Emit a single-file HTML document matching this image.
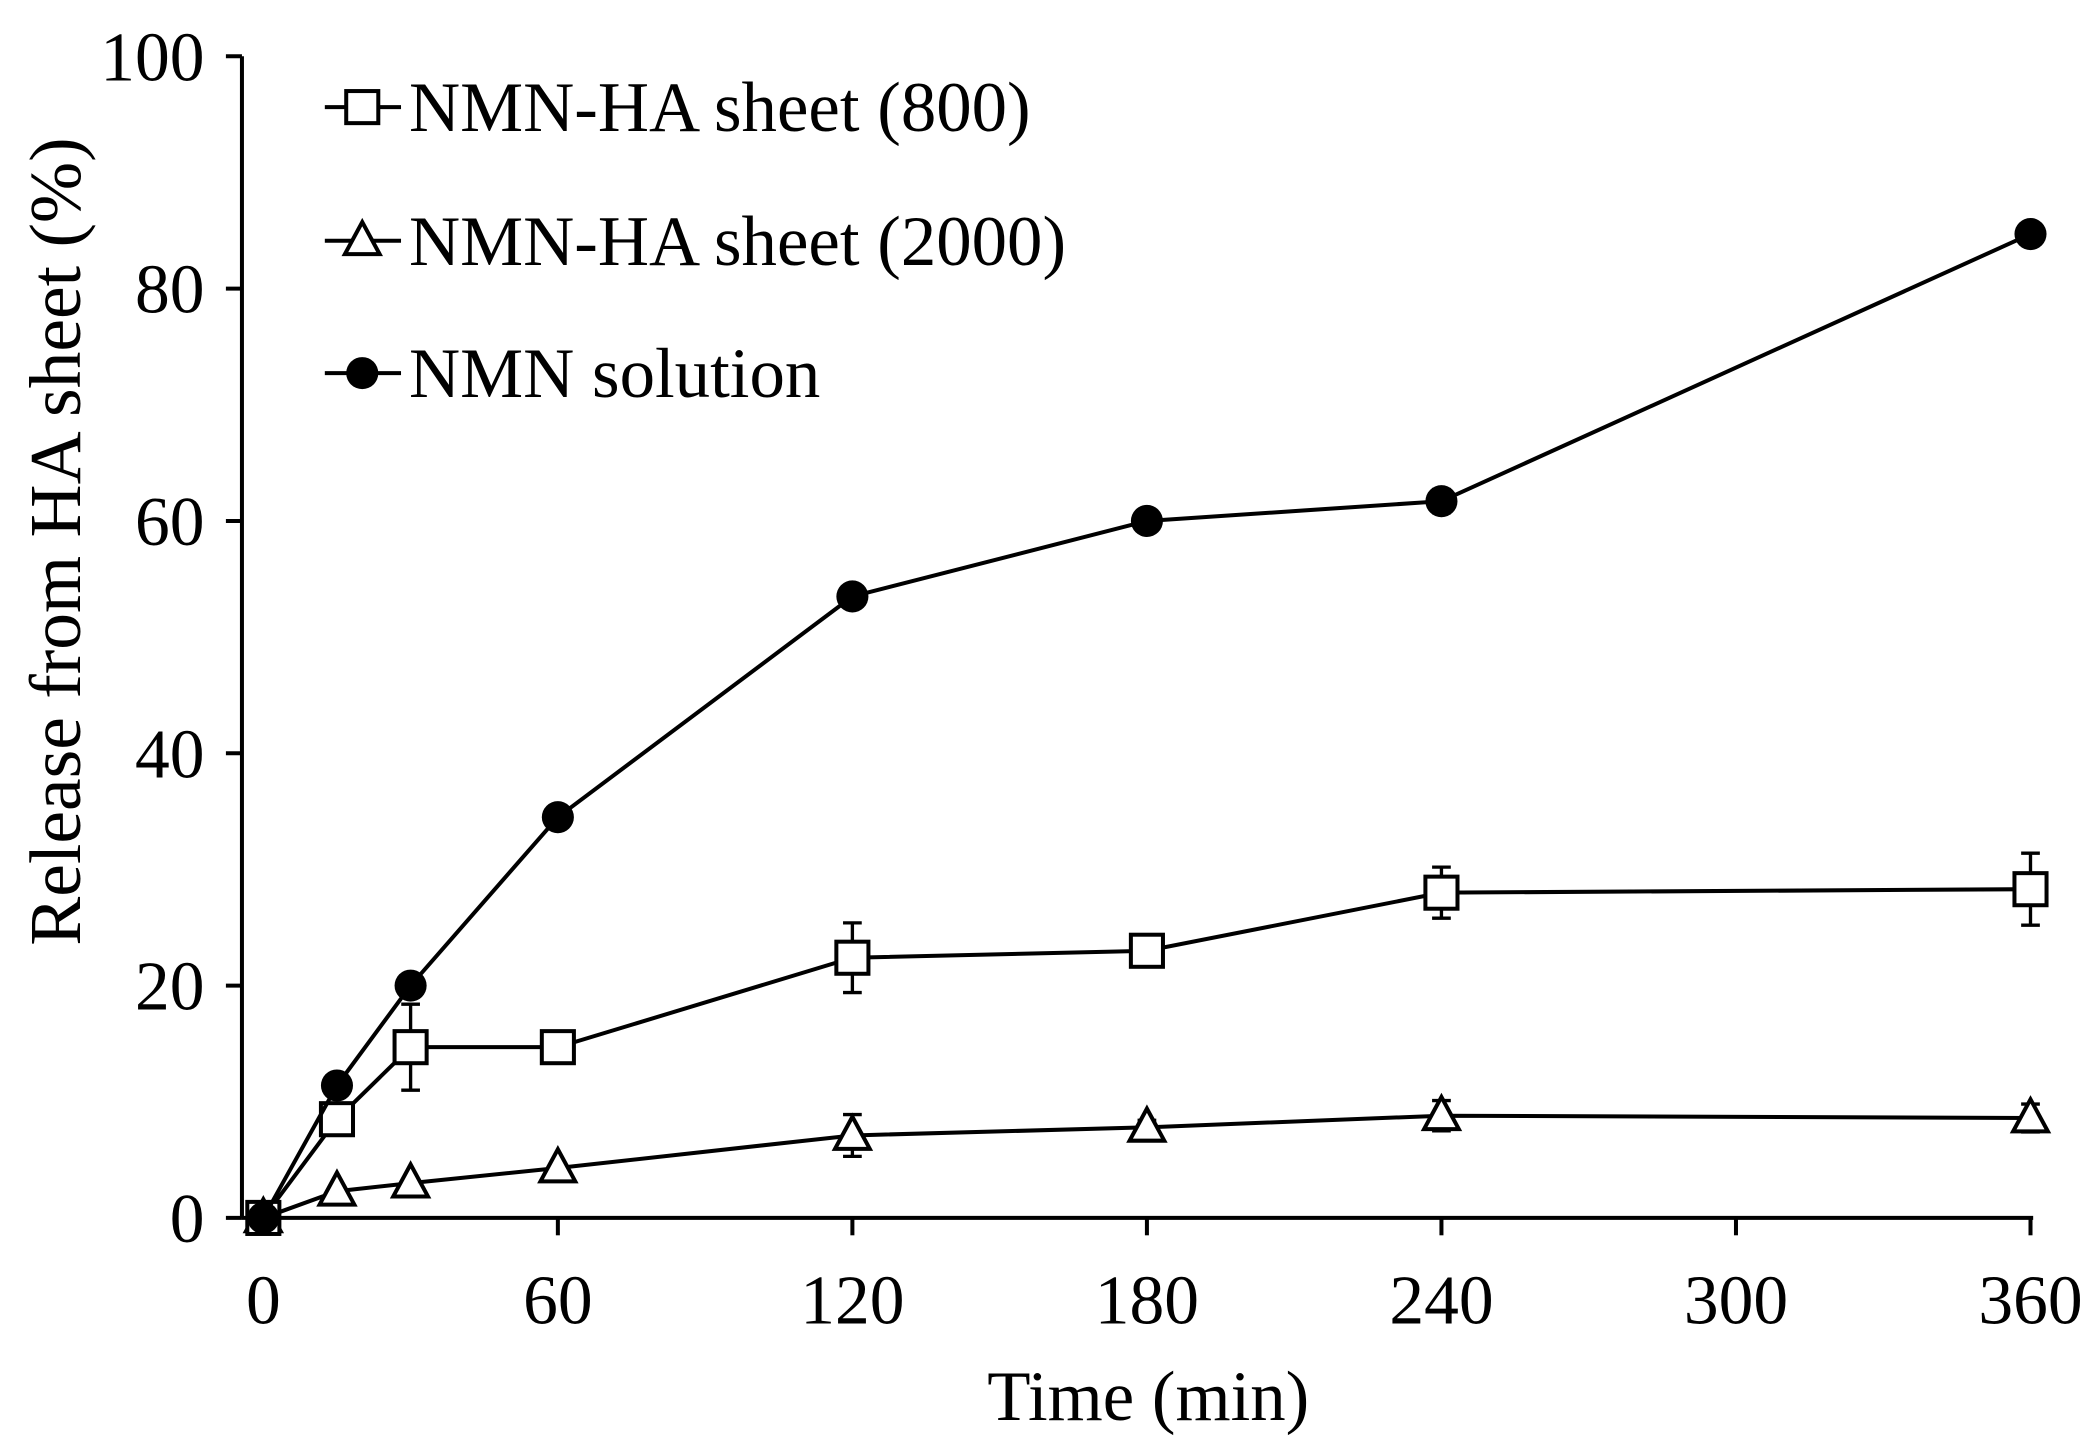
<!DOCTYPE html>
<html><head><meta charset="utf-8">
<style>html,body{margin:0;padding:0;background:#fff}svg{display:block}</style></head>
<body>
<svg id="chart" width="2096" height="1444" viewBox="0 0 1568 1080" xmlns="http://www.w3.org/2000/svg" font-family="Liberation Serif, serif">
<g id="axes"></g><g id="series"></g><g id="legend"></g>
</svg>
<script>
const times = [0, 15, 30, 60, 120, 180, 240, 360];
const solution = [0, 11.4, 20, 34.5, 53.5, 60, 61.7, 84.7];
const solutionErr = [0, 0.5, 0.5, 0.5, 0.5, 0.5, 1.0, 0.5];
const sheet800 = [0, 8.5, 14.7, 14.7, 22.4, 23, 28, 28.3];
const sheet800Err = [0, 0.5, 3.7, 1.3, 3, 0.5, 2.2, 3.1];
const sheet2000 = [0, 2.3, 3, 4.3, 7.1, 7.8, 8.8, 8.6];
const sheet2000Err = [0, 0.3, 0.3, 0.3, 1.8, 0.6, 1.3, 1.2];
const xTicks = [0, 60, 120, 180, 240, 300, 360];
const yTicks = [0, 20, 40, 60, 80, 100];

const NS = 'http://www.w3.org/2000/svg';
const X = v => 197 + v / 360 * (1519 - 197);
const Y = v => 911 - v / 100 * (911 - 42);
function mk(tag, attrs, parent, text) {
  const e = document.createElementNS(NS, tag);
  for (const k in attrs) e.setAttribute(k, attrs[k]);
  if (text !== undefined) e.textContent = text;
  parent.appendChild(e);
  return e;
}
const axes = document.getElementById('axes');
const ser = document.getElementById('series');
const leg = document.getElementById('legend');

let l = mk('line', {x1: 181, y1: 42, x2: 181, y2: 911, stroke: '#000', 'stroke-width': 3}, axes);


l = mk('line', {x1: 181, y1: 911, x2: 1521, y2: 911, stroke: '#000', 'stroke-width': 3}, axes);


yTicks.forEach(v => {
  mk('line', {x1: 169, y1: Y(v), x2: 181, y2: Y(v), stroke: '#000', 'stroke-width': 3}, axes);
  const t = mk('text', {x: 153, y: Y(v) + 18, 'text-anchor': 'end', 'font-size': 52}, axes, v);
  
  
});
xTicks.forEach(v => {
  mk('line', {x1: X(v), y1: 911, x2: X(v), y2: 924, stroke: '#000', 'stroke-width': 3}, axes);
  const t = mk('text', {x: X(v), y: 990, 'text-anchor': 'middle', 'font-size': 52}, axes, v);
  
  
});
let t = mk('text', {x: 859, y: 1062, 'text-anchor': 'middle', 'font-size': 53}, axes, 'Time (min)');


t = mk('text', {x: 0, y: 0, transform: 'translate(60,405) rotate(-90)', 'text-anchor': 'middle', 'font-size': 55}, axes, 'Release from HA sheet (%)');



function marker(kind, cx, cy, parent) {
  let m;
  if (kind === 'square') m = mk('rect', {x: cx - 12, y: cy - 12, width: 24, height: 24, fill: '#fff', stroke: '#000', 'stroke-width': 3}, parent);
  else if (kind === 'triangle') m = mk('polygon', {points: `${cx},${cy - 14} ${cx - 13},${cy + 10} ${cx + 13},${cy + 10}`, fill: '#fff', stroke: '#000', 'stroke-width': 3}, parent);
  else m = mk('circle', {cx, cy, r: 12, fill: '#000'}, parent);
  return m;
}
function drawSeries(name, vals, errs, kind) {
  const g = mk('g', {}, ser);
  
  
  mk('polyline', {points: times.map((x, i) => X(x) + ',' + Y(vals[i])).join(' '), fill: 'none', stroke: '#000', 'stroke-width': 3}, g);
  times.forEach((x, i) => {
    const cx = X(x), hi = Y(vals[i] + errs[i]), lo = Y(vals[i] - errs[i]);
    mk('line', {x1: cx, y1: hi, x2: cx, y2: lo, stroke: '#000', 'stroke-width': 2.5}, g);
    mk('line', {x1: cx - 7, y1: hi, x2: cx + 7, y2: hi, stroke: '#000', 'stroke-width': 2.5}, g);
    mk('line', {x1: cx - 7, y1: lo, x2: cx + 7, y2: lo, stroke: '#000', 'stroke-width': 2.5}, g);
    const m = marker(kind, cx, Y(vals[i]), g);
    
    
  });
}
drawSeries('series-sheet-2000', sheet2000, sheet2000Err, 'triangle');
drawSeries('series-sheet-800', sheet800, sheet800Err, 'square');
drawSeries('series-solution', solution, solutionErr, 'circle');

[['NMN-HA sheet (800)', 'square', 80], ['NMN-HA sheet (2000)', 'triangle', 180], ['NMN solution', 'circle', 279]].forEach(([lab, kind, y]) => {
  const g = mk('g', {}, leg);
  
  
  mk('line', {x1: 243, y1: y, x2: 300, y2: y, stroke: '#000', 'stroke-width': 3}, g);
  marker(kind, 271, y, g);
  mk('text', {x: 306, y: y + 18, 'font-size': 53}, g, lab);
});
</script>
</body></html>
